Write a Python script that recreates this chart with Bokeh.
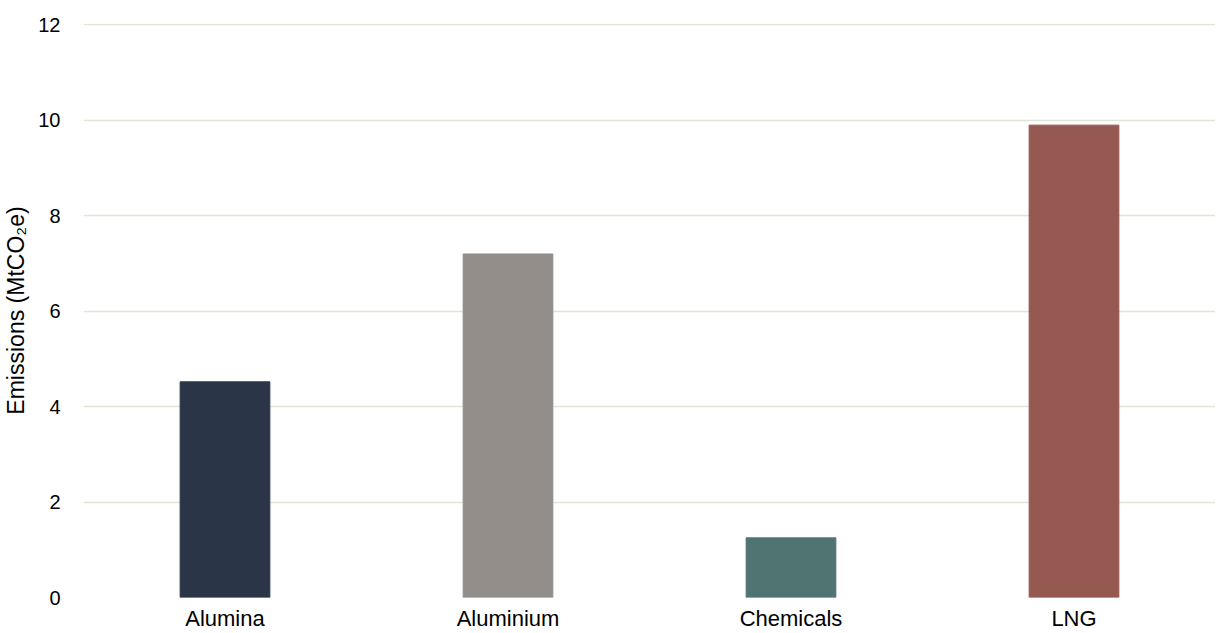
from bokeh.plotting import figure
from bokeh.models import ColumnDataSource, Range1d, FactorRange, FixedTicker
from bokeh.embed import file_html
from bokeh.resources import INLINE

categories = ["Alumina", "Aluminium", "Chemicals", "LNG"]
values = [4.52, 7.2, 1.25, 9.9]
colors = ["#2a3648", "#948e8a", "#4f7471", "#955952"]
y_ticks = [0, 2, 4, 6, 8, 10, 12]

src = ColumnDataSource(dict(cat=categories, val=values, color=colors))

p = figure(x_range=FactorRange(*categories), y_range=Range1d(0, 12.03),
           width=1215, height=633, output_backend="svg", toolbar_location=None,
           min_border_left=77, min_border_right=0, min_border_top=23, min_border_bottom=29)
p.vbar(x="cat", top="val", width=0.317, color="color", source=src)

p.outline_line_color = None
p.xgrid.grid_line_color = None
p.ygrid.grid_line_color = "#e2e2d6"
p.ygrid.grid_line_width = 1.5
p.yaxis.ticker = FixedTicker(ticks=y_ticks)
for ax in (p.xaxis[0], p.yaxis[0]):
    ax.axis_line_color = None
    ax.major_tick_line_color = None
    ax.minor_tick_line_color = None
    ax.major_label_text_font = "Liberation Sans"
    ax.major_label_text_color = "#000000"
p.yaxis.major_label_text_font_size = "20px"
p.xaxis.major_label_text_font_size = "22px"
p.yaxis.major_label_standoff = 17
p.xaxis.major_label_standoff = 2
p.yaxis.axis_label = "Emissions (MtCO₂e)"
p.yaxis.axis_label_text_font = "Liberation Sans"
p.yaxis.axis_label_text_font_size = "23px"
p.yaxis.axis_label_text_font_style = "normal"
p.yaxis.axis_label_text_color = "#000000"
p.yaxis.axis_label_standoff = 6

open("out.html", "w").write(file_html(p, INLINE))
